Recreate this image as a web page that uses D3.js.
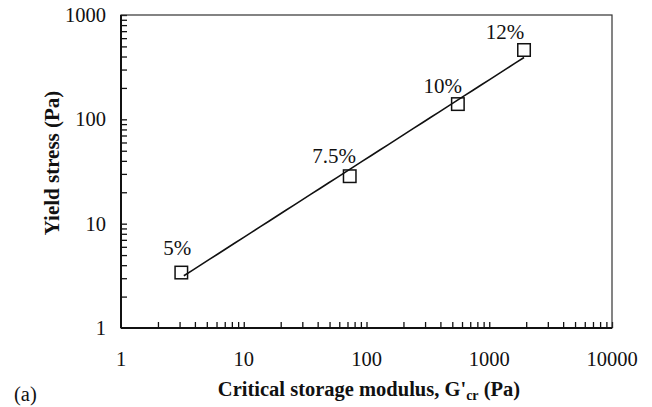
<!DOCTYPE html>
<html>
<head>
<meta charset="utf-8">
<script src="https://cdn.jsdelivr.net/npm/d3@7"></script>
<style>
  html, body { margin: 0; padding: 0; background: #fff; }
  svg { display: block; font-family: "Liberation Serif", "Times New Roman", serif; }
</style>
</head>
<body>
<svg id="chart" width="652" height="407"></svg>
<script>
// Yield stress vs critical storage modulus for each concentration
const concentrations = ["5%", "7.5%", "10%", "12%"];
const criticalModulus = [3.1, 73, 555, 1920];   // G'cr (Pa)
const yieldStress = [3.4, 28.5, 140, 462];      // Pa

// Power-law fit  y = a * x^b  drawn over the measured range
const fitCoefficients = [1.30, 0.755];          // a, b
const fitRange = [3.25, 1920];

const xTickValues = [1, 10, 100, 1000, 10000];
const yTickValues = [1, 10, 100, 1000];

const svg = d3.select("#chart");
const m = { left: 121, right: 612, top: 15, bottom: 328 };

const x = d3.scaleLog().domain([1, 10000]).range([m.left, m.right]);
const y = d3.scaleLog().domain([1, 1000]).range([m.bottom, m.top]);

const ink = "#111";

// minor + major ticks (pointing inward)
const xMinor = [];
for (let d = 1; d < 10000; d *= 10) for (let k = 2; k <= 10; k++) xMinor.push(d * k);
const yMinor = [];
for (let d = 1; d < 1000; d *= 10) for (let k = 2; k <= 10; k++) yMinor.push(d * k);

const xAxis = d3.axisBottom(x).tickValues(xMinor).tickSize(-6).tickFormat("");
const yAxis = d3.axisLeft(y).tickValues(yMinor).tickSize(-6).tickFormat("");

const gx = svg.append("g").attr("transform", `translate(0,${m.bottom})`).call(xAxis);
const gy = svg.append("g").attr("transform", `translate(${m.left},0)`).call(yAxis);
[gx, gy].forEach(g => {
  g.select(".domain").remove();
  g.selectAll(".tick line").attr("stroke", ink).attr("stroke-width", 1.3);
});

// frame
svg.append("rect")
  .attr("x", m.left).attr("y", m.top)
  .attr("width", m.right - m.left).attr("height", m.bottom - m.top)
  .attr("fill", "none").attr("stroke", "#333").attr("stroke-width", 1.2);
svg.append("line")
  .attr("x1", m.left).attr("x2", m.right).attr("y1", m.bottom).attr("y2", m.bottom)
  .attr("stroke", ink).attr("stroke-width", 2);
svg.append("line")
  .attr("x1", m.left).attr("x2", m.left).attr("y1", m.top).attr("y2", m.bottom)
  .attr("stroke", ink).attr("stroke-width", 2);

// tick labels
svg.append("g").selectAll("text").data(xTickValues).join("text")
  .attr("x", d => x(d)).attr("y", m.bottom + 38)
  .attr("text-anchor", "middle").attr("font-size", 20.5).attr("fill", ink)
  .text(d => d);
svg.append("g").selectAll("text").data(yTickValues).join("text")
  .attr("x", m.left - 15).attr("y", d => y(d)).attr("dy", "0.34em")
  .attr("text-anchor", "end").attr("font-size", 20.5).attr("fill", ink)
  .text(d => d);

// axis titles
const xt = svg.append("text")
  .attr("x", 369).attr("y", 396)
  .attr("text-anchor", "middle").attr("font-size", 20.5).attr("font-weight", "bold").attr("fill", ink);
xt.append("tspan").text("Critical storage modulus, G'");
xt.append("tspan").attr("font-size", 14).attr("dy", 4).text("cr");
xt.append("tspan").attr("dy", -4).text(" (Pa)");

svg.append("text")
  .attr("transform", "translate(59,163) rotate(-90)")
  .attr("text-anchor", "middle").attr("font-size", 21).attr("font-weight", "bold").attr("fill", ink)
  .text("Yield stress (Pa)");

svg.append("text").attr("x", 14).attr("y", 401)
  .attr("font-size", 20.5).attr("fill", ink).text("(a)");

// fitted line
const fitX = d3.range(0, 41).map(i =>
  Math.pow(10, Math.log10(fitRange[0]) + i / 40 * (Math.log10(fitRange[1]) - Math.log10(fitRange[0]))));
svg.append("path")
  .datum(fitX)
  .attr("fill", "none").attr("stroke", ink).attr("stroke-width", 1.6)
  .attr("d", d3.line().x(d => x(d)).y(d => y(fitCoefficients[0] * Math.pow(d, fitCoefficients[1]))));

// markers
const points = concentrations.map((c, i) => ({ c, gx: criticalModulus[i], ys: yieldStress[i] }));
const s = 12.5;
svg.append("g").selectAll("rect").data(points).join("rect")
  .attr("x", d => x(d.gx) - s / 2).attr("y", d => y(d.ys) - s / 2)
  .attr("width", s).attr("height", s)
  .attr("fill", "none").attr("stroke", ink).attr("stroke-width", 1.5);

// concentration labels, nudged above-left of each marker
const labelNudge = [[-4, -18], [-15.5, -13], [-15, -11.5], [-19, -10.5]];
svg.append("g").selectAll("text").data(points).join("text")
  .attr("x", (d, i) => x(d.gx) + labelNudge[i][0])
  .attr("y", (d, i) => y(d.ys) + labelNudge[i][1])
  .attr("text-anchor", "middle").attr("font-size", 21).attr("fill", ink)
  .text(d => d.c);
</script>
</body>
</html>
